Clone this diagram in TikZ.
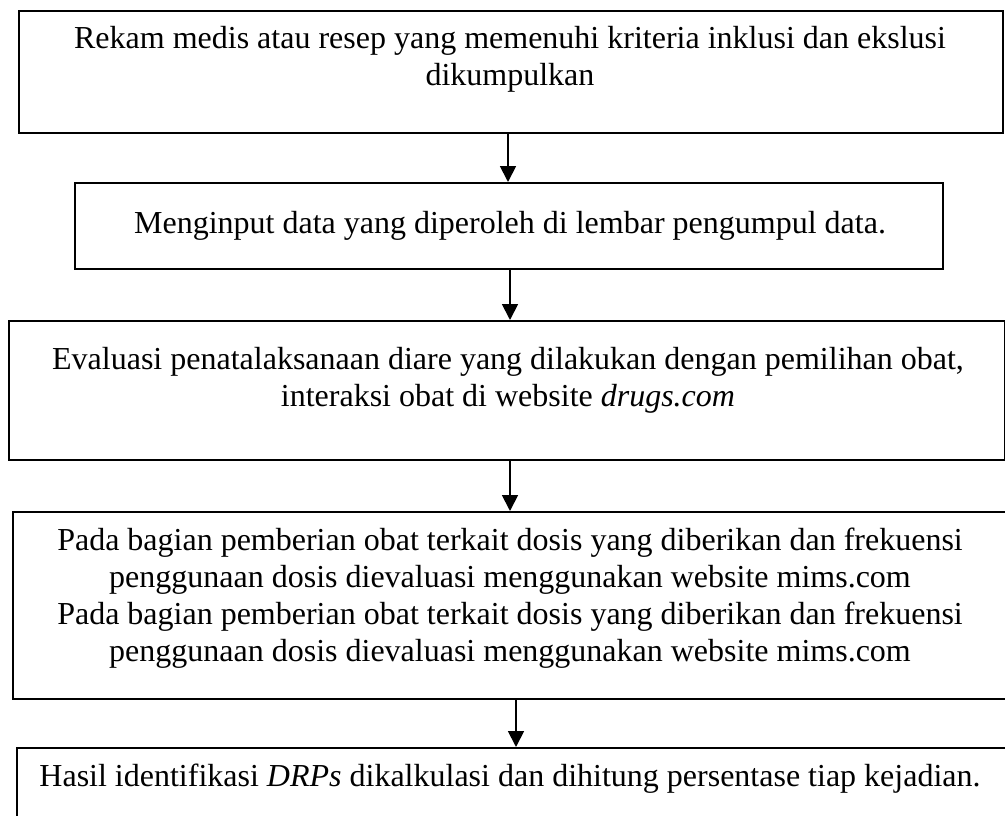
\documentclass[tikz,border=0pt]{standalone}
\usepackage{fontspec}
\setmainfont{Liberation Serif}
\usetikzlibrary{arrows.meta}
\begin{document}
\begin{tikzpicture}[x=1pt,y=-1pt,
  flowbox/.style={draw=black,line width=1.7pt,rectangle,anchor=north west,inner sep=0pt,minimum width=#1},
  flowtext/.style={align=center,inner sep=0pt,font=\fontsize{32pt}{37pt}\selectfont},
  flowarrow/.style={line width=1.8pt,-{Triangle[length=16pt,width=16pt]}}]
\useasboundingbox (0,0) rectangle (1005,815);
\clip (0,0) rectangle (1005,815);
\node[flowbox=984pt,minimum height=122pt] (b1) at (18,10) {};
\node[flowbox=868pt,minimum height=86pt] (b2) at (74,182) {};
\node[flowbox=996pt,minimum height=139pt] (b3) at (8,320) {};
\node[flowbox=1010pt,minimum height=187pt] (b4) at (12,511) {};
\node[flowbox=1010pt,minimum height=110pt] (b5) at (16,747) {};
\node[flowtext] (t1) at (510,59.5) {Rekam medis atau resep yang memenuhi kriteria inklusi dan ekslusi\\dikumpulkan};
\node[flowtext] (t2) at (510,226) {Menginput data yang diperoleh di lembar pengumpul data.};
\node[flowtext] (t3) at (508,380) {Evaluasi penatalaksanaan diare yang dilakukan dengan pemilihan obat,\\interaksi obat di website \textit{drugs.com}};
\node[flowtext] (t4) at (510,598) {Pada bagian pemberian obat terkait dosis yang diberikan dan frekuensi\\penggunaan dosis dievaluasi menggunakan website mims.com\\Pada bagian pemberian obat terkait dosis yang diberikan dan frekuensi\\penggunaan dosis dievaluasi menggunakan website mims.com};
\node[flowtext] (t5) at (510,779) {Hasil identifikasi \textit{DRPs} dikalkulasi dan dihitung persentase tiap kejadian.};
\coordinate (a1) at (508,0);
\coordinate (a2) at (510,0);
\coordinate (a3) at (510,0);
\coordinate (a4) at (516,0);
\draw[flowarrow] (b1.south -| a1) -- (b2.north -| a1);
\draw[flowarrow] (b2.south -| a2) -- (b3.north -| a2);
\draw[flowarrow] (b3.south -| a3) -- (b4.north -| a3);
\draw[flowarrow] (b4.south -| a4) -- (b5.north -| a4);
\end{tikzpicture}
\end{document}
